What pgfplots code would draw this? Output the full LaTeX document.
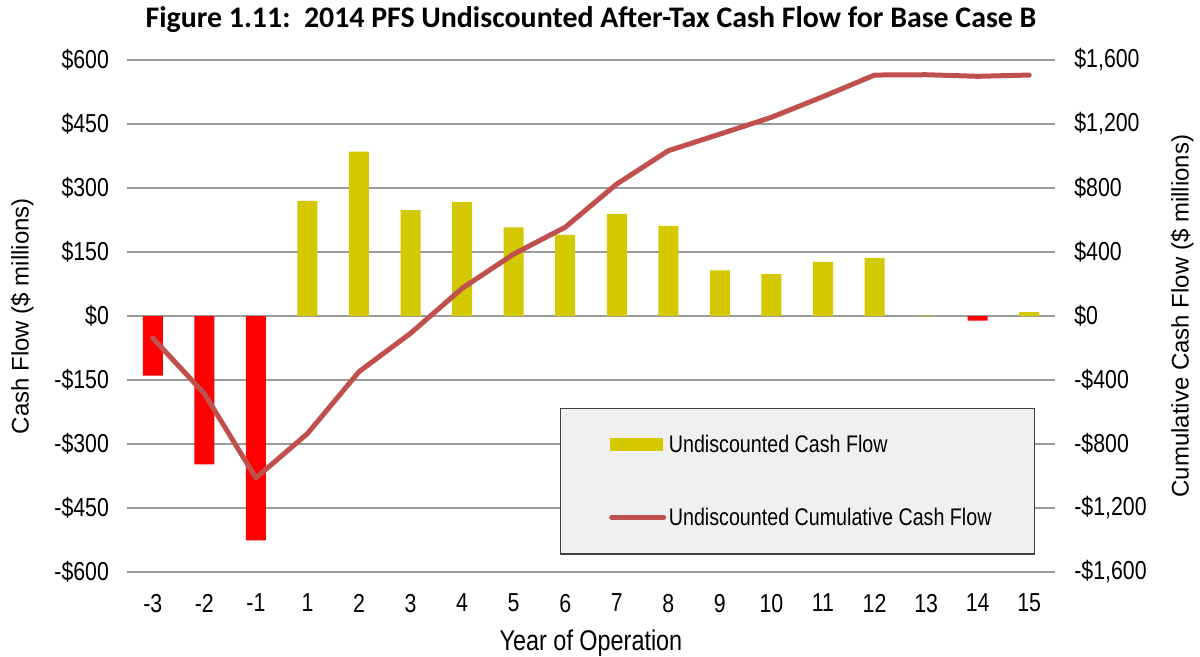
\documentclass[border=0pt]{standalone}
\usepackage{fontspec}
\setmainfont{Liberation Sans}[FakeStretch=0.82]
\newfontfamily\titlefont{Carlito}
\newfontfamily\widefont{Liberation Sans}
\usepackage{pgfplots}
\usepackage{pgfplotstable}
\pgfplotsset{compat=1.18}
\usetikzlibrary{calc}
\definecolor{barY}{RGB}{212,201,0}
\definecolor{barR}{RGB}{255,0,0}
\definecolor{lineR}{RGB}{192,80,77}
\definecolor{gridG}{RGB}{155,155,155}
\definecolor{legF}{RGB}{240,240,240}

\pgfplotstableread{
x v
3 270
4 385
5 248
6 267
7 208
8 190
9 239
10 211
11 107
12 98
13 127
14 136
15 1
17 9
}\pos
\pgfplotstableread{
x v
0 -140
1 -348
2 -526
16 -11
}\neg
\pgfplotstableread{
x c
0 -138
1 -485
2 -1012
3 -735
4 -348
5 -108
6 173
7 387
8 555
9 825
10 1033
11 1137
12 1242
13 1371
14 1506
15 1508
16 1498
17 1506
}\cum

\begin{document}
\begin{tikzpicture}
\pgfplotsset{
  common/.style={
    scale only axis, width=696pt, height=384pt,
    xmin=-0.5, xmax=17.5,
    major tick length=0pt,
    axis line style={draw=none},
    /pgf/number format/assume math mode=true,
    tick label style={font=\fontsize{19.5}{21}\selectfont},
    ylabel style={font=\widefont\fontsize{18}{20}\selectfont},
    xlabel style={font=\fontsize{21.4}{23}\selectfont},
  }
}
\begin{axis}[common, name=ax,
  ymin=-600, ymax=600,
  ytick={-600,-450,-300,-150,0,150,300,450,600},
  yticklabels={-\$600,-\$450,-\$300,-\$150,\$0,\$150,\$300,\$450,\$600},
  xtick={0,...,17},
  xticklabels={-3,-2,-1,1,2,3,4,5,6,7,8,9,10,11,12,13,14,15},
  xticklabel style={yshift=-13pt},
  yticklabel style={xshift=-10pt},
  ymajorgrids, grid style={gridG, line width=1.2pt},
  xlabel={Year of Operation},
  xlabel style={at={(axis description cs:0.5,-0.139)}, anchor=center},
  ylabel={Cash Flow (\$ millions)},
  ylabel style={at={(axis description cs:-0.113,0.5)}, anchor=center},
  title={\titlefont\bfseries Figure 1.11:\ \ 2014 PFS Undiscounted After-Tax Cash Flow for Base Case B},
  title style={at={(axis description cs:0.5,1.064)}, anchor=center, font=\fontsize{22.4}{25}\selectfont},
  ybar, bar width=15pt, bar shift=0pt,
]
\addplot[fill=barY, draw=none] table[x=x,y=v] {\pos};
\addplot[fill=barR, draw=none] table[x=x,y=v] {\neg};
\end{axis}
\begin{axis}[common,
  axis y line*=right, axis x line=none,
  ymin=-1600, ymax=1600,
  ytick={-1600,-1200,-800,-400,0,400,800,1200,1600},
  yticklabels={{-\$1,600},{-\$1,200},{-\$800},{-\$400},{\$0},{\$400},{\$800},{\$1,200},{\$1,600}},
  yticklabel style={xshift=11pt},
  ylabel={Cumulative Cash Flow (\$ millions)},
  ylabel style={at={(axis description cs:1.137,0.5)}, anchor=center},
  legend style={at={(axis description cs:0.4666,0.3203)}, anchor=north west,
    fill=legF, draw=black!75, line width=0.8pt, inner xsep=30pt, inner ysep=18pt,
    row sep=36pt, font=\fontsize{18}{20}\selectfont,
    nodes={inner sep=2pt}},
  legend cell align=left,
]
\addlegendimage{legend image code/.code={\path (0pt,0pt); \fill[barY] (5.5pt,-4.5pt) rectangle (44.5pt,4.5pt);}}
\addlegendentry{Undiscounted Cash Flow}
\addplot[lineR, line width=3.75pt, line join=round, line cap=round, mark=none,
  legend image code/.code={\path (0pt,0pt); \draw[lineR, line width=3.75pt, line cap=round] (6.5pt,0pt) -- (45.5pt,0pt);}]
  table[x=x,y=c] {\cum};
\addlegendentry{Undiscounted Cumulative Cash Flow}
\end{axis}
\pgfresetboundingbox
\path[use as bounding box] ($(ax.south west)+(-95.25pt,-63pt)$) rectangle ($(ax.north east)+(108.75pt,45pt)$);
\end{tikzpicture}
\end{document}
